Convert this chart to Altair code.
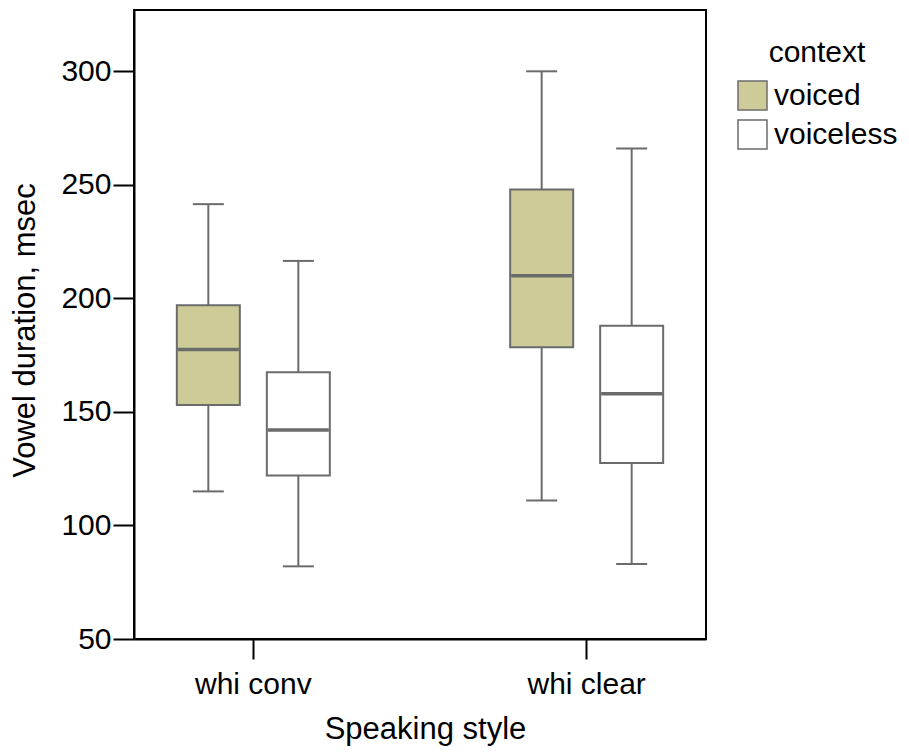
import altair as alt
import pandas as pd

# Box-plot summaries of vowel duration (msec) by speaking style and consonant context
styles = ["whi conv", "whi conv", "whi clear", "whi clear"]
contexts = ["voiced", "voiceless", "voiced", "voiceless"]
lower_whisker = [115, 82, 111, 83]
q1 = [153, 122, 178.5, 127.5]
median = [177.5, 142, 210, 158]
q3 = [197, 167.5, 248, 188]
upper_whisker = [241.5, 216.5, 300, 266]

style_order = ["whi conv", "whi clear"]
context_order = ["voiced", "voiceless"]
y_ticks = [50, 100, 150, 200, 250, 300]

df = pd.DataFrame({
    "style": styles,
    "context": contexts,
    "lower": lower_whisker,
    "q1": q1,
    "median": median,
    "q3": q3,
    "upper": upper_whisker,
})

GRAY = "#6b6b6b"
FONT = "Liberation Sans"
Y_TITLE = "Vowel duration, msec"

y_scale = alt.Scale(domain=[50, 327], nice=False, zero=False)
y_axis = alt.Axis(
    values=y_ticks, grid=False, title=Y_TITLE,
    tickSize=21, tickWidth=2, tickColor="black",
    domainColor="black", domainWidth=2,
    labelFontSize=30, labelColor="black", labelPadding=2,
    titleFontSize=31, titleColor="black", titleFontWeight="normal",
    titleBaseline="alphabetic", titleX=-100, titleY=320,
)

base = alt.Chart(df).encode(
    x=alt.X(
        "style:N", sort=style_order,
        scale=alt.Scale(paddingInner=0.284, paddingOuter=0),
        axis=alt.Axis(
            title="Speaking style", labelAngle=0,
            tickSize=20, tickWidth=2, tickColor="black",
            domainColor="black", domainWidth=2,
            labelFontSize=30, labelColor="black", labelPadding=10,
            titleFontSize=31, titleColor="black", titleFontWeight="normal",
            titleBaseline="alphabetic", titleX=291, titleY=99,
        ),
    ),
    xOffset=alt.XOffset(
        "context:N", sort=context_order,
        scale=alt.Scale(paddingInner=0.3, paddingOuter=0.476),
    ),
)

whiskers = base.mark_rule(color=GRAY, strokeWidth=2).encode(
    y=alt.Y("lower:Q", scale=y_scale, axis=y_axis, title=Y_TITLE),
    y2="upper:Q",
)

boxes = base.mark_bar(stroke=GRAY, strokeWidth=2, opacity=1).encode(
    y=alt.Y("q1:Q", scale=y_scale, title=Y_TITLE),
    y2="q3:Q",
    fill=alt.Fill(
        "context:N", sort=context_order,
        scale=alt.Scale(domain=context_order, range=["#cdcc99", "#ffffff"]),
        legend=alt.Legend(
            title="context", orient="none", legendX=603, legendY=28,
            padding=0, titleAnchor="middle", titleFontSize=30,
            titleFontWeight="normal", titleColor="black", titlePadding=12,
            labelFontSize=30, labelColor="black", labelOffset=6,
            symbolType="square", symbolSize=840,
            symbolStrokeColor=GRAY, symbolStrokeWidth=1.5, symbolOpacity=1,
            rowPadding=4,
        ),
    ),
)

medians = base.mark_tick(color=GRAY, thickness=3.5, size=61, opacity=1).encode(
    y=alt.Y("median:Q", scale=y_scale, title=Y_TITLE),
)

caps_low = base.mark_tick(color=GRAY, thickness=2, size=31, opacity=1).encode(
    y=alt.Y("lower:Q", scale=y_scale, title=Y_TITLE),
)
caps_high = base.mark_tick(color=GRAY, thickness=2, size=31, opacity=1).encode(
    y=alt.Y("upper:Q", scale=y_scale, title=Y_TITLE),
)

chart = alt.layer(whiskers, boxes, medians, caps_low, caps_high).properties(
    width=572,
    height=629,
    autosize=alt.AutoSizeParams(type="none"),
    padding={"left": 134, "top": 10, "right": 203, "bottom": 115},
).configure(
    font=FONT,
    background="white",
).configure_view(
    stroke="black", strokeWidth=2,
)

chart.save("out.html", embed_options={"renderer": "svg", "actions": False})
